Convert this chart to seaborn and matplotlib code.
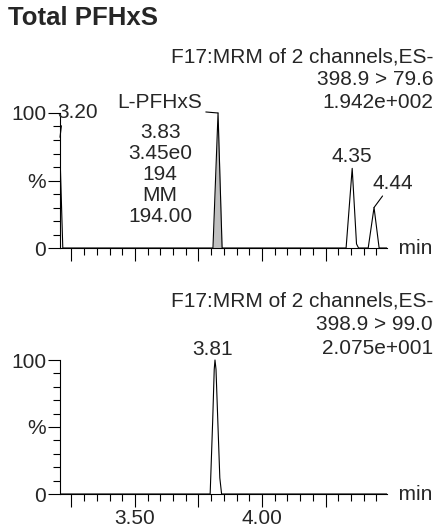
import seaborn as sns
import matplotlib.pyplot as plt
import pandas as pd

# chromatogram traces (time in min, relative intensity in %)
time_ch1 = [3.190, 3.200, 3.216, 3.807, 3.827, 3.843, 4.331, 4.355, 4.372, 4.380,
            4.418, 4.441, 4.461, 4.492]
int_ch1 = [100, 100, 0, 0, 100, 0, 0, 59, 3, 0, 0, 30, 0, 0]
time_ch2 = [3.205, 3.796, 3.806, 3.812, 3.815, 3.819, 3.826, 3.834, 3.841, 4.492]
int_ch2 = [0, 0, 55, 93, 100, 93, 55, 12, 0, 0]
fill_time = [3.807, 3.827, 3.843]
fill_int = [0, 100, 0]

title = 'Total PFHxS'
header_ch1 = ['F17:MRM of 2 channels,ES-', '398.9 > 79.6', '1.942e+002']
header_ch2 = ['F17:MRM of 2 channels,ES-', '398.9 > 99.0', '2.075e+001']
peak_block = '3.83\n3.45e0\n194\nMM\n194.00'

x_major = [3.25, 3.50, 3.75, 4.00, 4.25]
x_major_labels = ['', '3.50', '', '4.00', '']
x_minor = [3.30, 3.35, 3.40, 3.45, 3.55, 3.60, 3.65, 3.70, 3.80, 3.85, 3.90, 3.95,
           4.05, 4.10, 4.15, 4.20, 4.30, 4.35, 4.40, 4.45]
y_major = [0, 50, 100]
y_major_labels = ['0', '%', '100']
y_minor = [10, 20, 30, 40, 60, 70, 80, 90]

W, H = 444, 531
FS = 15

sns.set_theme(style='white')
plt.rcParams['font.family'] = ['Liberation Sans', 'DejaVu Sans']


def px(x, y):
    return x / W, 1 - y / H


def style_axis(ax, show_xlabels):
    ax.set_xlim(3.205, 4.492)
    ax.set_ylim(0, 105)
    ax.set_xticks(x_major)
    ax.set_xticklabels(x_major_labels if show_xlabels else [''] * len(x_major))
    ax.set_xticks(x_minor, minor=True)
    ax.set_yticks(y_major)
    ax.set_yticklabels(y_major_labels)
    ax.set_yticks(y_minor, minor=True)
    ax.tick_params(axis='both', which='both', direction='out', color='black',
                   width=0.8, labelsize=FS, pad=1, bottom=True, left=True)
    ax.tick_params(axis='x', which='major', length=9.5)
    ax.tick_params(axis='x', which='minor', length=5)
    ax.tick_params(axis='y', which='major', length=9)
    ax.tick_params(axis='y', which='minor', length=5)
    sns.despine(ax=ax)
    ax.spines['left'].set_bounds(0, 100)
    for s in ['left', 'bottom']:
        ax.spines[s].set_linewidth(0.8)
        ax.spines[s].set_color('black')
    ax.set_xlabel('')
    ax.set_ylabel('')
    ax.text(1.0, 0, '  min', transform=ax.transAxes, ha='left', va='center', fontsize=FS)


fig = plt.figure(figsize=(W / 100, H / 100), dpi=100)
ax1 = fig.add_axes([60 / W, 283 / H, 327 / W, 141.75 / H])
ax2 = fig.add_axes([60 / W, 37 / H, 327 / W, 140.7 / H])

df1 = pd.DataFrame({'time': time_ch1, 'intensity': int_ch1})
df2 = pd.DataFrame({'time': time_ch2, 'intensity': int_ch2})

ax1.fill_between(fill_time, fill_int, color='#c0c0c0', lw=0)
sns.lineplot(data=df1, x='time', y='intensity', ax=ax1, sort=False, estimator=None,
             color='black', lw=0.8)
sns.lineplot(data=df2, x='time', y='intensity', ax=ax2, sort=False, estimator=None,
             color='black', lw=0.8)
style_axis(ax1, False)
style_axis(ax2, True)

# title and channel headers
fig.text(*px(8, 18), title, fontsize=18.5, fontweight='bold', ha='left', va='center')
for i, line in enumerate(header_ch1):
    fig.text(*px(433, 57 + i * 22.5), line, fontsize=FS, ha='right', va='center')
for i, line in enumerate(header_ch2):
    fig.text(*px(433, 301 + i * 23.5), line, fontsize=FS, ha='right', va='center')

leader = dict(arrowstyle='-', color='black', lw=0.8, shrinkA=0, shrinkB=0)

# peak labels, channel 1
ax1.annotate('3.20', xy=(3.205, 82), xytext=(3.276, 100), fontsize=FS, ha='center',
             va='center', annotation_clip=False,
             arrowprops=dict(leader, relpos=(0.1, 0.0)))
ax1.annotate('L-PFHxS', xy=(3.827, 100), xytext=(3.599, 108), fontsize=FS, ha='center',
             va='center', annotation_clip=False,
             arrowprops=dict(leader, relpos=(1.0, 0.0)))
ax1.text(3.599, 54.4, peak_block, fontsize=FS, ha='center', va='center', linespacing=1.12)
ax1.text(4.355, 68, '4.35', fontsize=FS, ha='center', va='center')
ax1.annotate('4.44', xy=(4.441, 30), xytext=(4.516, 48), fontsize=FS, ha='center',
             va='center', annotation_clip=False,
             arrowprops=dict(leader, relpos=(0.3, 0.0)))

# peak label, channel 2
ax2.text(3.807, 108, '3.81', fontsize=FS, ha='center', va='center')

fig.savefig('out.png', dpi=100)
